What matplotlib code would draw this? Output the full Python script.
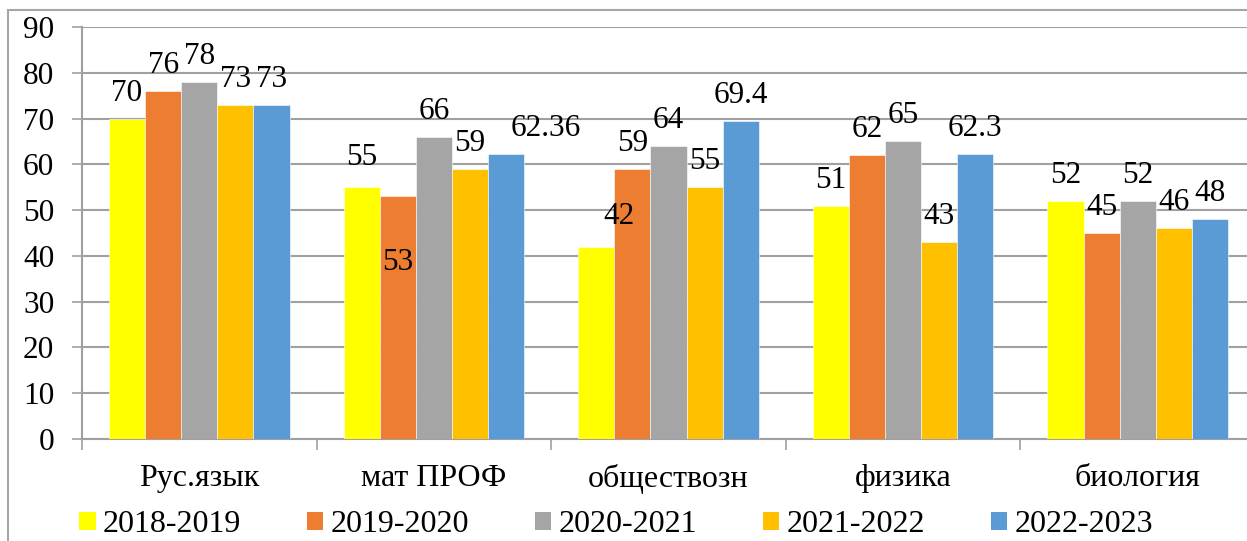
import matplotlib
matplotlib.use("Agg")
import matplotlib.pyplot as plt
import numpy as np
from matplotlib.patches import Rectangle, Patch

categories = ["Рус.язык", "мат ПРОФ", "обществозн", "физика", "биология"]
series_names = ["2018-2019", "2019-2020", "2020-2021", "2021-2022", "2022-2023"]
s2018 = [70, 55, 42, 51, 52]
s2019 = [76, 53, 59, 62, 45]
s2020 = [78, 66, 64, 65, 52]
s2021 = [73, 59, 55, 43, 46]
s2022 = [73, 62.36, 69.4, 62.3, 48]
label_texts = [
    ["70", "55", "42", "51", "52"],
    ["76", "53", "59", "62", "45"],
    ["78", "66", "64", "65", "52"],
    ["73", "59", "55", "43", "46"],
    ["73", "62.36", "69.4", "62.3", "48"],
]
yticks = [0, 10, 20, 30, 40, 50, 60, 70, 80, 90]

colors = ["#FFFF00", "#ED7D31", "#A5A5A5", "#FFC000", "#5B9BD5"]
series = [s2018, s2019, s2020, s2021, s2022]

# label placement tweaks (series index, category index) -> (dx px, dy px of digit centre vs bar top)
label_shift = {(0, 1): (0, -33), (1, 1): (0, 63), (0, 2): (23, -33), (4, 1): (40, -28.5)}
default_shift = (0, -28.5)

plt.rcParams['font.family'] = 'serif'
plt.rcParams['font.serif'] = ['Liberation Serif', 'DejaVu Serif']
W, H = 1247, 541
fig = plt.figure(figsize=(W / 100, H / 100), dpi=100)
PX = 72 / 100  # points per pixel

# outer border (only top/left visible in the reference)
fig.patches.append(Rectangle((7.5 / W, -0.1), 2.0, 1.1 - 10 / H,
                             transform=fig.transFigure, fill=False,
                             edgecolor="#A6A6A6", linewidth=1.5))

left, right, top, bottom = 82, 1255, 27, 439
ax = fig.add_axes([left / W, (H - bottom) / H, (right - left) / W, (bottom - top) / H])

x = np.arange(len(categories))
bw = 0.77 / 5
digit_half = 10.5  # half height of digits in px
for i, (vals, col) in enumerate(zip(series, colors)):
    pos = x - 0.385 + bw * (i + 0.5)
    ax.bar(pos, vals, width=bw, color=col, edgecolor="white", linewidth=0.4,
           zorder=3, label=series_names[i])
    for j, v in enumerate(vals):
        dx, dy = label_shift.get((i, j), default_shift)
        ax.annotate(label_texts[i][j], (pos[j], v),
                    xytext=(dx * PX, -(dy + digit_half) * PX),
                    textcoords="offset points", ha="center", va="baseline",
                    fontsize=22.5, zorder=4)

ax.set_xlim(-0.5, len(categories) - 0.5)
ax.set_ylim(0, 90)
ax.set_yticks(yticks)
ax.set_yticklabels([str(t) for t in yticks], fontsize=22.5)
ax.yaxis.grid(True, color="#A0A0A0", linewidth=1.5, zorder=0)
ax.set_axisbelow(True)

ax.set_xticks(np.arange(len(categories) + 1) - 0.5, minor=False)
ax.set_xticklabels([])
ax.set_xticks(x, minor=True)
ax.set_xticklabels(categories, minor=True, fontsize=23)
ax.tick_params(axis="x", which="major", length=8, width=1.2, color="#A0A0A0", direction="out")
ax.tick_params(axis="x", which="minor", length=0, pad=18)
ax.tick_params(axis="y", length=7, width=1.2, color="#A0A0A0", pad=13)

for s in ["top", "right"]:
    ax.spines[s].set_visible(False)
for s in ["left", "bottom"]:
    ax.spines[s].set_color("#A0A0A0")
    ax.spines[s].set_linewidth(1.5)

handles = [Patch(facecolor=c, edgecolor="none") for c in colors]
fig.legend(handles, series_names, loc="center left", ncol=5,
           bbox_to_anchor=(79 / W, (H - 525) / H), frameon=False,
           fontsize=23, handlelength=0.52, handleheight=0.52,
           handletextpad=0.23, columnspacing=2.05, borderaxespad=0, borderpad=0)

fig.savefig("out.png", dpi=100)
